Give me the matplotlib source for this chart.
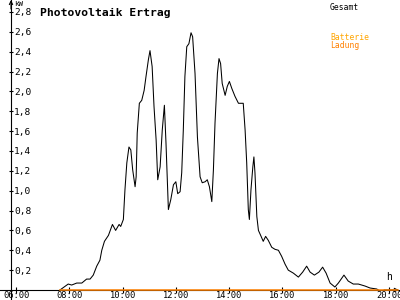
import matplotlib
matplotlib.use('Agg')
import matplotlib.pyplot as plt

# Gesamt power curve (hours of day, kW)
hours = [7.65, 7.96, 8.09, 8.28, 8.47, 8.65, 8.78, 8.90, 9.03, 9.15, 9.22, 9.32,
         9.47, 9.62, 9.74, 9.87, 9.93, 10.03, 10.09, 10.16, 10.24, 10.31, 10.38,
         10.47, 10.51, 10.55, 10.63, 10.72, 10.81, 10.88, 10.97, 11.03, 11.11,
         11.18, 11.26, 11.32, 11.41, 11.49, 11.57, 11.63, 11.72, 11.81, 11.91,
         12.00, 12.07, 12.16, 12.22, 12.28, 12.34, 12.41, 12.49, 12.57, 12.63,
         12.72, 12.81, 12.91, 12.99, 13.10, 13.18, 13.26, 13.35, 13.41, 13.47,
         13.56, 13.62, 13.68, 13.74, 13.85, 13.93, 14.01, 14.10, 14.22, 14.35,
         14.53, 14.60, 14.66, 14.72, 14.76, 14.82, 14.89, 14.93, 14.97, 15.04,
         15.10, 15.20, 15.28, 15.37, 15.47, 15.60, 15.72, 15.85, 15.97, 16.10,
         16.22, 16.41, 16.60, 16.76, 16.91, 17.04, 17.20, 17.37, 17.51, 17.64,
         17.79, 17.97, 18.10, 18.31, 18.47, 18.66, 18.85, 19.10, 19.29, 19.54,
         19.60]
gesamt = [0.00, 0.06, 0.05, 0.07, 0.07, 0.11, 0.11, 0.15, 0.24, 0.30, 0.40, 0.49,
          0.55, 0.66, 0.60, 0.66, 0.64, 0.71, 1.01, 1.28, 1.44, 1.41, 1.21,
          1.04, 1.14, 1.58, 1.88, 1.91, 2.01, 2.15, 2.32, 2.41, 2.25,
          1.85, 1.51, 1.11, 1.24, 1.61, 1.86, 1.48, 0.81, 0.91, 1.06,
          1.09, 0.97, 0.99, 1.18, 1.61, 2.15, 2.45, 2.48, 2.59, 2.55,
          2.18, 1.54, 1.14, 1.08, 1.09, 1.11, 1.04, 0.89, 1.21, 1.68,
          2.18, 2.33, 2.28, 2.08, 1.96, 2.05, 2.10, 2.03, 1.95, 1.88,
          1.88, 1.61, 1.28, 0.81, 0.71, 1.01, 1.24, 1.34, 1.18, 0.74,
          0.60, 0.54, 0.49, 0.54, 0.50, 0.43, 0.41, 0.40, 0.34, 0.26,
          0.20, 0.17, 0.13, 0.18, 0.24, 0.18, 0.15, 0.18, 0.23, 0.17,
          0.07, 0.03, 0.07, 0.15, 0.09, 0.06, 0.06, 0.04, 0.02, 0.01,
          0.00]

# Batterie Ladung (stays at zero)
ladung_hours = [7.65, 20.33]
ladung = [0.0, 0.0]

x_ticks = [6, 8, 10, 12, 14, 16, 18, 20]
x_labels = ['06:00', '08:00', '10:00', '12:00', '14:00', '16:00', '18:00', '20:00']
y_ticks = [0.2, 0.4, 0.6, 0.8, 1.0, 1.2, 1.4, 1.6, 1.8, 2.0, 2.2, 2.4, 2.6, 2.8]
y_labels = ['0,2', '0,4', '0,6', '0,8', '1,0', '1,2', '1,4', '1,6', '1,8',
            '2,0', '2,2', '2,4', '2,6', '2,8']

mono = 'DejaVu Sans Mono'

fig = plt.figure(figsize=(4, 3), dpi=100)
ax = fig.add_axes([0, 0, 1, 1])
ax.set_xlim(5.3994, 20.414)
ax.set_ylim(-0.1007, 2.920)

ax.plot(hours, gesamt, color='black', lw=0.75)
ax.plot(ladung_hours, ladung, color='#ff8000', lw=1.1, zorder=5)

# axes through the origin
for s in ['top', 'right']:
    ax.spines[s].set_visible(False)
ax.spines['left'].set_position(('data', 5.8123))
ax.spines['bottom'].set_position(('data', 0))
ax.spines['left'].set_linewidth(0.8)
ax.spines['bottom'].set_linewidth(0.8)

ax.set_xticks(x_ticks)
ax.set_xticklabels(x_labels, family=mono, fontsize=6.3)
ax.tick_params(axis='x', direction='inout', length=4, width=0.8, pad=-1.2)

ax.set_yticks(y_ticks)
ax.set_yticklabels(y_labels, family=mono, fontsize=6.8)
ax.tick_params(axis='y', direction='inout', length=3, width=0.8, pad=-3.7)
for lbl in ax.get_yticklabels():
    lbl.set_horizontalalignment('left')

# arrow heads
ax.annotate('', xy=(5.8123, 1.0), xycoords=('data', 'axes fraction'),
            xytext=(5.8123, 0.97), textcoords=('data', 'axes fraction'),
            arrowprops=dict(arrowstyle='->', lw=0.8, color='black',
                            shrinkA=0, shrinkB=0, mutation_scale=6))
ax.annotate('', xy=(0.997, 0), xycoords=('axes fraction', 'data'),
            xytext=(0.96, 0), textcoords=('axes fraction', 'data'),
            arrowprops=dict(arrowstyle='->', lw=0.8, color='black',
                            shrinkA=0, shrinkB=0, mutation_scale=6))

fig.text(0.036, 0.997, 'kW', family=mono, fontsize=5.4, va='top', ha='left')
fig.text(0.965, 0.075, 'h', family=mono, fontsize=7, va='center', ha='left')
fig.text(0.10, 0.975, 'Photovoltaik Ertrag', family=mono, fontsize=8.2,
         fontweight='bold', va='top', ha='left')
fig.text(0.825, 0.99, 'Gesamt', family=mono, fontsize=5.8, va='top', ha='left')
fig.text(0.825, 0.89, 'Batterie', family=mono, fontsize=5.8, color='#ffa500',
         va='top', ha='left')
fig.text(0.825, 0.862, 'Ladung', family=mono, fontsize=5.8, color='#ff8000',
         va='top', ha='left')

fig.savefig('out.png', dpi=100, facecolor='white')
